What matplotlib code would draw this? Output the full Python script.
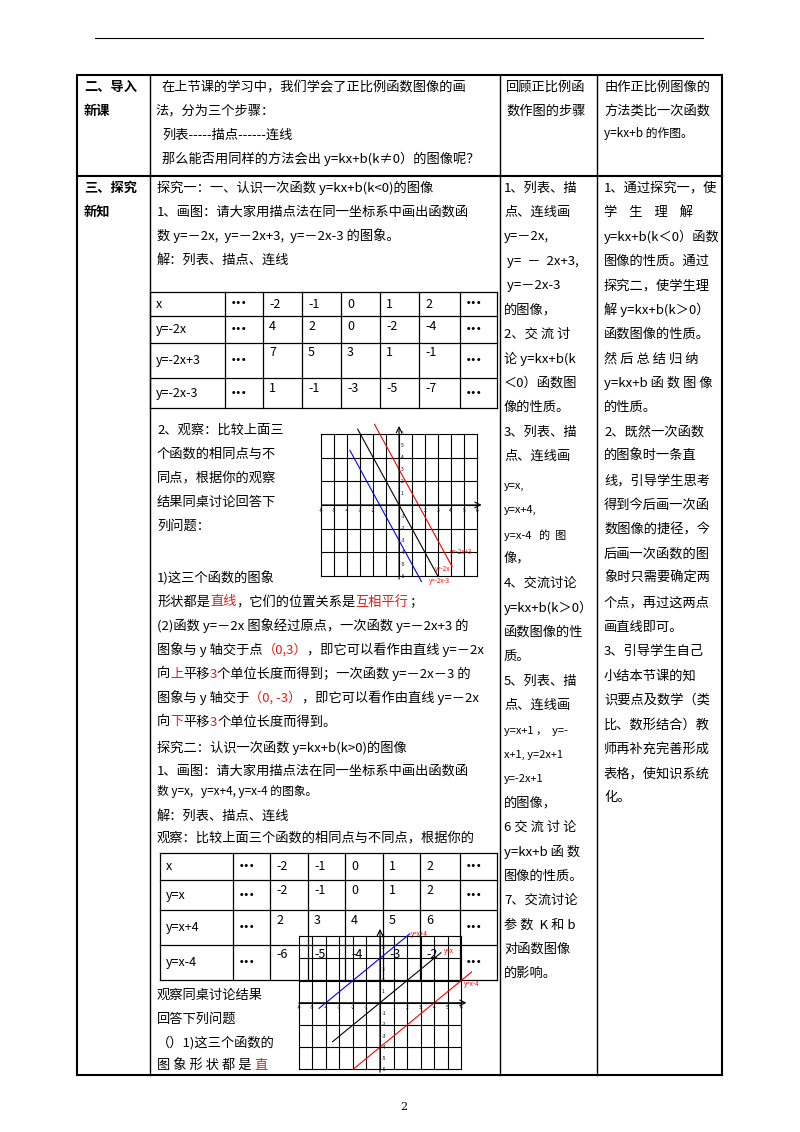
import matplotlib.pyplot as plt
import numpy as np

plt.rcParams['font.family'] = ['Noto Sans CJK SC', 'DejaVu Sans']

W, H = 800, 1132
RED = '#e0201a'

# table data
xs_head = ['x', '…', '-2', '-1', '0', '1', '2', '…']
tab1_rows = ['y=-2x', 'y=-2x+3', 'y=-2x-3']
tab1_vals = [['4', '2', '0', '-2', '-4'],
             ['7', '5', '3', '1', '-1'],
             ['1', '-1', '-3', '-5', '-7']]
tab2_rows = ['y=x', 'y=x+4', 'y=x-4']
tab2_vals = [['-2', '-1', '0', '1', '2'],
             ['2', '3', '4', '5', '6'],
             ['-6', '-5', '-4', '-3', '-2']]

# graph lines: (slope, intercept, x range, colour)
g1_lines = [(-2, 0, (-3.2, 3.0), 'black'), (-2, 3, (-1.9, 4.1), 'red'),
            (-2, -3, (-3.8, 1.8), 'blue')]
g2_lines = [(1, 0, (-3.5, 4.5), 'black'), (1, 4, (-4.5, 2.2), 'blue'),
            (1, -4, (-2.0, 6.8), 'red')]

fig = plt.figure(figsize=(8, 11.32), dpi=100)
bg = fig.add_axes([0, 0, 1, 1])
bg.set_xlim(0, W)
bg.set_ylim(H, 0)
bg.axis('off')


def hl(x0, x1, y, lw=1.0):
    bg.plot([x0, x1], [y, y], color='black', lw=lw)


def vl(x, y0, y1, lw=1.0):
    bg.plot([x, x], [y0, y1], color='black', lw=lw)


renderer = fig.canvas.get_renderer()


def T(x, y, parts, size=9.5, **kw):
    # parts: string or list of (text, colour)
    if isinstance(parts, str):
        parts = [(parts, 'black')]
    for s, c in parts:
        t = bg.text(x, y, s, fontsize=size, color=c, va='center', ha='left', **kw)
        x += t.get_window_extent(renderer).width


hl(95, 703, 38, 0.8)
# outer table
L, R = 77, 722
cols = [150, 500, 597]
hl(L, R, 75, 1.5)
hl(L, R, 176, 1.5)
hl(L, R, 1075, 1.5)
vl(L, 75, 1075, 1.5)
vl(R, 75, 1075, 1.5)
for c in cols:
    vl(c, 75, 1075)

T(84, 87, '二、导入', weight='bold')
T(84, 111, '新课', weight='bold')
T(84, 188, '三、探究', weight='bold')
T(84, 212, '新知', weight='bold')

T(162, 87, '在上节课的学习中，我们学会了正比例函数图像的画')
T(155, 111, '法，分为三个步骤：')
T(162, 135, '列表-----描点------连线')
T(162, 159, '那么能否用同样的方法会出 y=kx+b(k≠0）的图像呢？')

T(506, 87, '回顾正比例函')
T(506, 111, '数作图的步骤')
T(604, 87, '由作正比例图像的')
T(604, 111, '方法类比一次函数')
T(604, 134, 'y=kx+b 的作图。', size=8.5)

left1 = ['探究一：一、认识一次函数 y=kx+b(k<0)的图像',
         '1、画图：请大家用描点法在同一坐标系中画出函数函',
         '数 y=－2x,  y=－2x+3,  y=－2x-3 的图象。',
         '解：列表、描点、连线']
for i, s in enumerate(left1):
    T(157, 188 + 24 * i, s)


def table(x0, x1, ys, colx, rows, vals, head):
    for y in ys:
        hl(x0, x1, y, 0.9)
    for x in colx:
        vl(x, ys[0], ys[-1], 0.9)
    vl(x0, ys[0], ys[-1], 0.9)
    vl(x1, ys[0], ys[-1], 0.9)
    edges = [x0] + colx + [x1]
    labels = [head] + [[r, '…'] + v + ['…'] for r, v in zip(rows, vals)]
    for j, row in enumerate(labels):
        yc = (ys[j] + ys[j + 1]) / 2
        for k, s in enumerate(row):
            yy = yc if k in (0, 1, 7) or j == 0 else ys[j] + 10
            if s == '…':
                bg.text(edges[k] + 6, yc, '•••', fontsize=6, weight='bold',
                        va='center', ha='left', family='DejaVu Sans')
                continue
            T(edges[k] + 6, yy, s, size=9,
              style='italic' if k == 0 and j == 0 else 'normal')


table(150, 497, [292, 316, 343, 378, 408], [225, 263, 302, 341, 380, 419, 460],
      tab1_rows, tab1_vals, xs_head)
table(160, 497, [853, 880, 910, 945, 980], [233, 270, 308, 345, 383, 420, 460],
      tab2_rows, tab2_vals, xs_head)

obs1 = ['2、观察：比较上面三', '个函数的相同点与不', '同点，根据你的观察',
        '结果同桌讨论回答下', '列问题：']
for i, s in enumerate(obs1):
    T(157, 430 + 24 * i, s)
T(157, 578, '1)这三个函数的图象')
T(157, 602, [('形状都是', 'black'), ('直线', RED), ('，它们的位置关系是', 'black'),
             ('互相平行', RED), ('；', 'black')])
T(157, 626, '(2)函数 y=－2x 图象经过原点，一次函数 y=－2x+3 的')
T(157, 650, [('图象与 y 轴交于点', 'black'), ('（0,3）', RED),
             ('，即它可以看作由直线 y=－2x', 'black')])
T(157, 674, [('向', 'black'), ('上', RED), ('平移', 'black'), ('3', RED),
             ('个单位长度而得到；一次函数 y=－2x－3 的', 'black')])
T(157, 698, [('图象与 y 轴交于', 'black'), ('（0, -3）', RED),
             ('，即它可以看作由直线 y=－2x', 'black')])
T(157, 722, [('向', 'black'), ('下', RED), ('平移', 'black'), ('3', RED),
             ('个单位长度而得到。', 'black')])
T(157, 748, '探究二：认识一次函数 y=kx+b(k>0)的图像')
T(157, 771, '1、画图：请大家用描点法在同一坐标系中画出函数函')
T(157, 792, '数 y=x,   y=x+4, y=x-4 的图象。', size=8.5)
T(157, 816, '解：列表、描点、连线')
T(157, 838, '观察：比较上面三个函数的相同点与不同点，根据你的')
T(157, 995, '观察同桌讨论结果')
T(157, 1019, '回答下列问题')
T(157, 1043, '（）1)这三个函数的')
T(157, 1066, [('图 象 形 状 都 是 ', 'black'), ('直', RED)])

mid = ['1、列表、描', '点、连线画', 'y=－2x,', ' y=  －  2x+3,', ' y=－2x-3',
       '的图像，', '2、交 流 讨', '论 y=kx+b(k', '＜0）函数图', '像的性质。',
       '3、列表、描', '点、连线画']
for i, s in enumerate(mid):
    T(504, 188 + 24.4 * i, s)
mid2 = ['y=x,', 'y=x+4,', 'y=x-4   的  图']
for i, s in enumerate(mid2):
    T(504, 486 + 24.4 * i, s, size=8)
mid3 = ['像，', '4、交流讨论', 'y=kx+b(k＞0）', '函数图像的性', '质。', '5、列表、描',
        '点、连线画']
for i, s in enumerate(mid3):
    T(504, 559 + 24.4 * i, s)
T(504, 731, 'y=x+1 ，  y=-', size=8)
T(504, 755, 'x+1, y=2x+1', size=8)
T(504, 779, 'y=-2x+1', size=8)
mid4 = ['的图像，', '6 交 流 讨 论', 'y=kx+b 函 数', '图像的性质。', '7、交流讨论',
        '参 数  K 和 b', '对函数图像', '的影响。']
for i, s in enumerate(mid4):
    T(504, 803 + 24.4 * i, s)

right = ['1、通过探究一，使', '学    生    理    解', 'y=kx+b(k＜0）函数',
         '图像的性质。通过', '探究二，使学生理', '解 y=kx+b(k＞0）',
         '函数图像的性质。', '然 后 总 结 归 纳', 'y=kx+b 函 数 图 像', '的性质。',
         '2、既然一次函数', '的图象时一条直', '线，引导学生思考', '得到今后画一次函',
         '数图像的捷径，今', '后画一次函数的图', '象时只需要确定两', '个点，再过这两点',
         '画直线即可。', '3、引导学生自己', '小结本节课的知', '识要点及数学（类',
         '比、数形结合）教', '师再补充完善形成', '表格，使知识系统', '化。']
for i, s in enumerate(right):
    T(604, 188 + 24.4 * i, s)

T(400, 1107, '2', size=8, family='DejaVu Serif')


def graph(rect, lines, labels):
    ax = fig.add_axes(rect)
    ax.set_xlim(-6.5, 6.8)
    ax.set_ylim(-6.5, 7)
    for v in range(-6, 7):
        ax.plot([v, v], [-6, 6], color='black', lw=0.8)
    for v in range(-6, 7, 2):
        ax.plot([-6, 6], [v, v], color='black', lw=0.8)
    ax.annotate('', xy=(6.6, 0), xytext=(-6.2, 0),
                arrowprops=dict(arrowstyle='->', lw=0.8))
    ax.annotate('', xy=(0, 6.9), xytext=(0, -6.5),
                arrowprops=dict(arrowstyle='->', lw=0.8))
    for v in range(-6, 7):
        if v:
            ax.text(v, -0.6, str(v), fontsize=3.5, ha='center')
            ax.text(0.15, v, str(v), fontsize=3.5, va='center')
    for (k, b, (a0, a1), c), (lx, ly, s) in zip(lines, labels):
        xx = np.array([a0, a1])
        ax.plot(xx, k * xx + b, color=c, lw=0.8)
        ax.text(lx, ly, s, fontsize=4.5, color='red')
    ax.axis('off')


graph([315 / W, 1 - 582 / H, 172 / W, 160 / H], g1_lines,
      [(2.8, -5.6, 'y=-2x'), (3.9, -4.1, 'y=-2x+3'), (2.3, -6.6, 'y=-2x-3')])
graph([292 / W, 1 - 1075 / H, 180 / W, 150 / H], g2_lines,
      [(4.7, 4.5, 'y=x'), (2.3, 6.0, 'y=x+4'), (6.2, 1.5, 'y=x-4')])

fig.savefig('out.png', dpi=100)
